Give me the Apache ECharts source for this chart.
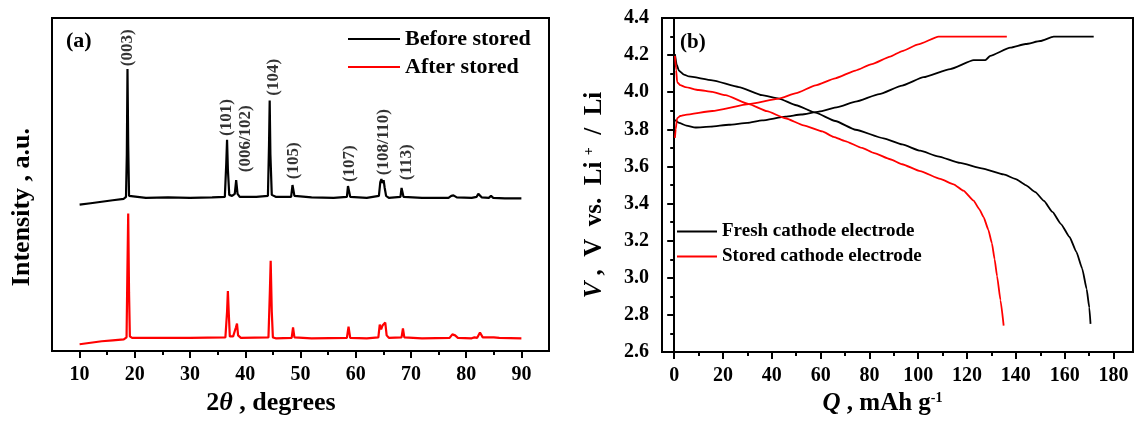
<!DOCTYPE html>
<html>
<head>
<meta charset="utf-8">
<script src="https://cdn.jsdelivr.net/npm/echarts@6/dist/echarts.min.js"></script>
<style>
  html, body { margin: 0; padding: 0; background: #fff; }
  #chart { width: 1136px; height: 421px; }
</style>
</head>
<body>
<div id="chart"></div>
<script>
// (a) XRD patterns, [2theta, intensity] (arbitrary units, curves already offset)
const beforeStored = [
  [10, 149], [12, 150.5], [14, 152], [16, 153.5], [18, 155], [18.4, 157], [18.55, 200], [18.67, 287],
  [18.8, 210], [18.95, 158], [19.3, 156], [22, 156], [26, 156.5], [30, 156], [34, 156.5], [36.3, 157],
  [36.55, 190], [36.7, 215], [36.85, 185], [37.1, 159], [37.6, 158], [38.1, 160], [38.35, 174],
  [38.6, 160], [39, 157], [42, 157], [44.1, 158], [44.3, 210], [44.42, 255], [44.55, 200], [44.8, 159],
  [45.5, 157], [48.3, 157], [48.55, 169], [48.7, 170], [48.9, 158], [52, 156.5], [56, 156],
  [58.4, 157], [58.6, 168], [58.8, 169], [59.0, 157], [62, 156], [64.2, 158], [64.45, 172],
  [64.65, 175], [64.85, 171], [65.05, 174], [65.25, 166], [65.5, 158], [66, 156], [68.1, 157],
  [68.3, 166], [68.45, 167], [68.65, 157], [72, 156], [76.8, 156], [77.3, 158], [77.7, 158.5],
  [78.3, 156.5], [81, 156], [81.9, 157], [82.2, 160], [82.5, 159], [82.8, 156.5], [84.1, 156],
  [84.5, 158], [84.9, 156], [87, 155.5], [90, 155.5]
];
const afterStored = [
  [10, 7], [12, 8.5], [14, 10], [16, 11], [18, 12], [18.5, 14], [18.65, 80], [18.8, 140], [18.95, 60],
  [19.1, 15], [19.5, 13.5], [25, 13.5], [30, 13.5], [36.4, 14], [36.7, 40], [36.85, 61], [37.0, 40],
  [37.2, 15], [37.8, 15], [38.3, 24], [38.5, 28], [38.7, 16], [39.2, 13.5], [44.2, 14], [44.45, 60],
  [44.6, 92], [44.8, 40], [45.0, 14], [45.5, 13], [48.4, 13.5], [48.65, 24], [48.9, 14], [52, 13],
  [58.4, 13.5], [58.7, 25], [59.0, 13.5], [62, 13], [64.1, 14], [64.35, 27], [64.6, 22], [64.85, 26],
  [65.1, 28], [65.35, 29], [65.6, 16], [66, 13.5], [68.3, 14], [68.55, 23], [68.8, 14], [72, 13],
  [77, 13.5], [77.5, 17], [78, 16], [78.5, 13.5], [81, 13], [81.5, 14], [82, 13.5], [82.5, 19],
  [83, 14], [84.2, 14], [84.5, 16], [85, 14], [86, 13.5], [90, 13]
];
// peak indices: [label, 2theta of label, height of label foot]
const peakLabels = [
  ['(003)', 18.7, 290], ['(101)', 36.7, 219], ['(006/102)', 40.1, 182], ['(104)', 45.2, 260],
  ['(105)', 48.8, 175], ['(107)', 58.9, 172], ['(108/110)', 65.1, 179], ['(113)', 69.2, 174]
];
const xrdTicks = [10, 20, 30, 40, 50, 60, 70, 80, 90];
const xrdMinorTicks = [15, 25, 35, 45, 55, 65, 75, 85];

// (b) charge / discharge curves, [Q mAh/g, V]
const freshCharge = [
  [0.3, 3.851], [2, 3.835], [5, 3.82], [8.7, 3.81], [15, 3.815], [22.4, 3.825], [30, 3.835],
  [36, 3.848], [45.6, 3.869], [52, 3.88], [59.3, 3.896], [67, 3.92], [74.3, 3.949], [84, 3.99],
  [93.4, 4.036], [102.2, 4.081], [113.1, 4.125], [122.7, 4.173], [127.5, 4.173], [129.5, 4.196],
  [137.7, 4.24], [144, 4.26], [150, 4.276], [155.5, 4.30], [171.9, 4.30]
];
const freshDischarge = [
  [0.3, 4.205], [1, 4.15], [1.9, 4.117], [4, 4.095], [6, 4.085], [15.6, 4.064], [26.5, 4.028],
  [36, 3.984], [42.9, 3.966], [50, 3.93], [57.9, 3.89], [66, 3.845], [74.3, 3.798], [85.8, 3.752],
  [93.4, 3.719], [100.8, 3.685], [108, 3.655], [117.2, 3.619], [126, 3.59], [135, 3.557],
  [140, 3.532], [144, 3.5], [148, 3.462], [151.5, 3.415], [155, 3.355], [158.5, 3.29], [162, 3.22],
  [164.8, 3.14], [167.2, 3.05], [169, 2.94], [170.1, 2.84], [170.6, 2.752]
];
const storedCharge = [
  [0.3, 3.754], [0.6, 3.80], [1.2, 3.86], [2.5, 3.872], [4.6, 3.878], [15.6, 3.899], [30.6, 3.936],
  [42.9, 3.966], [50, 3.995], [57.9, 4.037], [66, 4.075], [74.3, 4.117], [81, 4.152], [88.5, 4.192],
  [93.4, 4.222], [100, 4.258], [108.3, 4.30], [136.3, 4.30]
];
const storedDischarge = [
  [0.3, 4.196], [0.8, 4.12], [1.2, 4.055], [2.5, 4.038], [4.6, 4.028], [10, 4.012], [15.6, 4.002],
  [21, 3.984], [30.6, 3.936], [38, 3.898], [45.6, 3.86], [53, 3.822], [60.7, 3.789], [65.3, 3.76],
  [70, 3.737], [77, 3.70], [82, 3.672], [88.5, 3.639], [93.4, 3.612], [100.8, 3.575], [109, 3.533],
  [114.5, 3.504], [118.5, 3.47], [122.7, 3.416], [125, 3.37], [126.8, 3.327], [128.7, 3.26],
  [130.2, 3.186], [131.3, 3.10], [132.3, 3.009], [133.7, 2.88], [135, 2.743]
];
const capTicks = [0, 20, 40, 60, 80, 100, 120, 140, 160, 180];
const capMinorTicks = [10, 30, 50, 70, 90, 110, 130, 150, 170];

const FONT = 'Liberation Serif';
const BLACK = '#000';
const RED = '#ff0000';

const chart = echarts.init(document.getElementById('chart'), null, { renderer: 'canvas' });

const tickLabel = { fontFamily: FONT, fontWeight: 'bold', fontSize: 20, color: BLACK };
function nameStyle(size, padding) {
  return {
    fontFamily: FONT, fontWeight: 'bold', fontSize: size, color: BLACK, padding: padding,
    rich: {
      i: { fontFamily: FONT, fontWeight: 'bold', fontStyle: 'italic', fontSize: size, color: BLACK },
      n: { fontFamily: FONT, fontWeight: 'bold', fontSize: size, color: BLACK },
      sup: { fontFamily: FONT, fontWeight: 'bold', fontSize: 14, color: BLACK, verticalAlign: 'top' }
    }
  };
}

function lineSeries(name, data, color, xi, yi, width, smooth) {
  return {
    name: name, type: 'line', data: data, xAxisIndex: xi, yAxisIndex: yi,
    showSymbol: false, smooth: smooth, smoothMonotone: 'x',
    lineStyle: { color: color, width: width }, itemStyle: { color: color }
  };
}

const option = {
  animation: false,
  backgroundColor: '#fff',
  grid: [
    { left: 52, top: 18, width: 497, height: 339, show: true, borderColor: BLACK, borderWidth: 2 },
    { left: 662, top: 18, width: 471, height: 339, show: true, borderColor: BLACK, borderWidth: 2 }
  ],
  xAxis: [
    {
      gridIndex: 0, type: 'value', min: 5, max: 95, position: 'bottom',
      name: '{n|2}{i|θ}{n| , degrees}', nameLocation: 'middle', nameGap: 36,
      nameTextStyle: nameStyle(26, [0, 59, 0, 0]),
      axisLine: { lineStyle: { color: BLACK, width: 2 } },
      axisTick: { customValues: xrdTicks, length: 7, lineStyle: { color: BLACK, width: 2 } },
      axisLabel: Object.assign({ customValues: xrdTicks, margin: 14 }, tickLabel),
      splitLine: { show: false }
    },
    {
      gridIndex: 0, type: 'value', min: 5, max: 95, position: 'bottom',
      axisLine: { show: false },
      axisTick: { customValues: xrdMinorTicks, length: 4, lineStyle: { color: BLACK, width: 2 } },
      axisLabel: { show: false }, splitLine: { show: false }
    },
    {
      gridIndex: 1, type: 'value', min: -5, max: 188, position: 'bottom',
      name: '{i|Q}{n| , mAh g}{sup|-1}', nameLocation: 'middle', nameGap: 36,
      nameTextStyle: nameStyle(25, [0, 30, 0, 0]),
      axisLine: { lineStyle: { color: BLACK, width: 2 } },
      axisTick: { customValues: capTicks, length: 7, lineStyle: { color: BLACK, width: 2 } },
      axisLabel: Object.assign({ customValues: capTicks, margin: 14 }, tickLabel),
      splitLine: { show: false }
    },
    {
      gridIndex: 1, type: 'value', min: -5, max: 188, position: 'bottom',
      axisLine: { show: false },
      axisTick: { customValues: capMinorTicks, length: 4, lineStyle: { color: BLACK, width: 2 } },
      axisLabel: { show: false }, splitLine: { show: false }
    }
  ],
  yAxis: [
    {
      gridIndex: 0, type: 'value', min: 0, max: 339,
      name: 'Intensity , a.u.', nameLocation: 'middle', nameGap: 17,
      nameTextStyle: nameStyle(26, [0, 45, 0, 0]),
      axisLine: { show: true, lineStyle: { color: BLACK, width: 2 } },
      axisTick: { show: false }, axisLabel: { show: false }, splitLine: { show: false }
    },
    {
      gridIndex: 1, type: 'value', min: 2.6, max: 4.4, interval: 0.2,
      name: '{i|V}{n| ,  V  vs.  Li }{sup|+}{n|  /  Li}', nameLocation: 'middle', nameGap: 55,
      nameTextStyle: nameStyle(25, [0, 20, 0, 0]),
      axisLine: { show: true, lineStyle: { color: BLACK, width: 2 } },
      axisTick: { length: 7, lineStyle: { color: BLACK, width: 2 } },
      minorTick: { show: true, splitNumber: 2, length: 4, lineStyle: { color: BLACK, width: 2 } },
      axisLabel: Object.assign({ margin: 13, formatter: (v) => v.toFixed(1) }, tickLabel),
      splitLine: { show: false }, minorSplitLine: { show: false }
    }
  ],
  legend: [
    {
      data: ['Before stored', 'After stored'], orient: 'vertical', left: 348, top: 28, padding: 0,
      icon: 'rect', itemWidth: 52, itemHeight: 2, itemGap: 6,
      textStyle: { fontFamily: FONT, fontWeight: 'bold', fontSize: 22, color: BLACK }
    },
    {
      data: ['Fresh cathode electrode', 'Stored cathode electrode'], orient: 'vertical', left: 677, top: 222, padding: 0,
      icon: 'rect', itemWidth: 40, itemHeight: 2, itemGap: 6,
      textStyle: { fontFamily: FONT, fontWeight: 'bold', fontSize: 19, color: BLACK }
    }
  ],
  graphic: [
    { type: 'text', left: 66, top: 30, style: { text: '(a)', fontFamily: FONT, fontWeight: 'bold', fontSize: 22, fill: BLACK } },
    { type: 'text', left: 680, top: 32, style: { text: '(b)', fontFamily: FONT, fontWeight: 'bold', fontSize: 21, fill: BLACK } }
  ],
  series: [
    lineSeries('Before stored', beforeStored, BLACK, 0, 0, 2.2, false),
    lineSeries('After stored', afterStored, RED, 0, 0, 2.2, false),
    {
      name: 'peaks', type: 'scatter', xAxisIndex: 0, yAxisIndex: 0, symbolSize: 0,
      data: peakLabels.map((p) => ({ value: [p[1], p[2]], name: p[0] })),
      itemStyle: { color: 'transparent' },
      label: {
        show: true, formatter: '{b}', position: 'top', distance: 0, rotate: 90,
        align: 'left', verticalAlign: 'middle',
        fontFamily: FONT, fontWeight: 'bold', fontSize: 17, color: BLACK
      },
      z: 5
    },
    lineSeries('Fresh cathode electrode', freshCharge, BLACK, 2, 1, 1.8, 0.15),
    lineSeries('Fresh cathode electrode', freshDischarge, BLACK, 2, 1, 1.8, 0.15),
    lineSeries('Stored cathode electrode', storedCharge, RED, 2, 1, 1.8, 0.15),
    lineSeries('Stored cathode electrode', storedDischarge, RED, 2, 1, 1.8, 0.15)
  ]
};

chart.setOption(option);
</script>
</body>
</html>
